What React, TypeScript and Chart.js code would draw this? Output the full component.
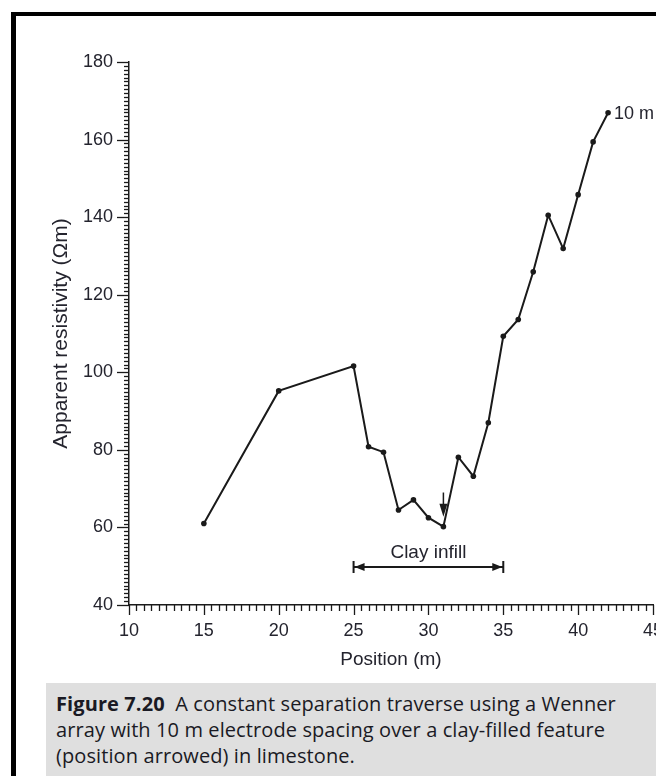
import React, { useEffect, useRef } from "react";
import { Chart, registerables } from "chart.js";

Chart.register(...registerables);

// ---- data ----
const positions = [15, 20, 25, 26, 27, 28, 29, 30, 31, 32, 33, 34, 35, 36, 37, 38, 39, 40, 41, 42];
const resistivity = [61, 95.2, 101.6, 80.8, 79.4, 64.5, 67.1, 62.5, 60.2, 78.1, 73.2, 87, 109.3, 113.6, 125.9, 140.5, 131.9, 145.8, 159.4, 166.9];
const xMin = 10;
const xMax = 45;
const xStep = 5;
const xMinorStep = 0.5;
const yMin = 40;
const yMax = 180;
const yStep = 20;
const yMinorStep = 1;
const seriesLabel = "10 m";
const clayRange = [25, 35];
const clayLevel = 49.8;
const clayLabel = "Clay infill";
const arrowPosition = 31;
const arrowTopValue = 69;
const xTitle = "Position (m)";
const yTitle = "Apparent resistivity (\u03A9m)";
const captionBold = "Figure 7.20";
const captionLines = [
  "A constant separation traverse using a Wenner",
  "array with 10 m electrode spacing over a clay-filled feature",
  "(position arrowed) in limestone.",
];

const INK = "#1a1a1a";
const TEXT = "#24242e";
const FONT = "'Liberation Sans', Arial, Helvetica, sans-serif";

const CANVAS_W = 760;
const CANVAS_H = 683;
const AREA_TOP = 62;
const AREA_LEFT = 129;
const AREA_RIGHT = 653;
const AREA_BOTTOM = 605;

const decorPlugin = {
  id: "decor",
  afterDatasetsDraw(chart: any) {
    const { ctx } = chart;
    const xs = chart.scales.x;
    const ys = chart.scales.y;
    ctx.save();
    ctx.strokeStyle = INK;
    ctx.fillStyle = INK;
    ctx.lineWidth = 1.3;

    // y axis ticks (outward)
    const yAxisX = xs.getPixelForValue(xMin);
    for (let v = yMin; v <= yMax + 1e-9; v += yMinorStep) {
      const py = Math.round(ys.getPixelForValue(v)) + 0.5;
      const major = Math.abs((v - yMin) % yStep) < 1e-6;
      ctx.beginPath();
      ctx.moveTo(yAxisX, py);
      ctx.lineTo(yAxisX - (major ? 12 : 5), py);
      ctx.stroke();
    }
    // x axis ticks (outward)
    const xAxisY = ys.getPixelForValue(yMin);
    for (let v = xMin; v <= xMax + 1e-9; v += xMinorStep) {
      const px = Math.round(xs.getPixelForValue(v)) + 0.5;
      const major = Math.abs((v - xMin) % xStep) < 1e-6;
      ctx.beginPath();
      ctx.moveTo(px, xAxisY);
      ctx.lineTo(px, xAxisY + (major ? 10 : 6));
      ctx.stroke();
    }

    // Clay infill double arrow
    const x1 = xs.getPixelForValue(clayRange[0]);
    const x2 = xs.getPixelForValue(clayRange[1]);
    const cy = ys.getPixelForValue(clayLevel);
    ctx.lineWidth = 2;
    ctx.beginPath();
    ctx.moveTo(x1, cy);
    ctx.lineTo(x2, cy);
    ctx.moveTo(x1, cy - 6);
    ctx.lineTo(x1, cy + 6);
    ctx.moveTo(x2, cy - 6);
    ctx.lineTo(x2, cy + 6);
    ctx.stroke();
    ctx.beginPath();
    ctx.moveTo(x1 + 1, cy);
    ctx.lineTo(x1 + 11, cy - 4);
    ctx.lineTo(x1 + 11, cy + 4);
    ctx.closePath();
    ctx.moveTo(x2 - 1, cy);
    ctx.lineTo(x2 - 11, cy - 4);
    ctx.lineTo(x2 - 11, cy + 4);
    ctx.closePath();
    ctx.fill();

    ctx.fillStyle = TEXT;
    ctx.font = `19px ${FONT}`;
    ctx.textAlign = "center";
    ctx.textBaseline = "alphabetic";
    ctx.fillText(clayLabel, (x1 + x2) / 2, cy - 9);

    // small arrow pointing at the feature
    const idx = positions.indexOf(arrowPosition);
    const ax = xs.getPixelForValue(arrowPosition);
    const aTop = ys.getPixelForValue(arrowTopValue);
    const aTip = ys.getPixelForValue(resistivity[idx]) - 10;
    ctx.fillStyle = INK;
    ctx.lineWidth = 1.5;
    ctx.beginPath();
    ctx.moveTo(ax, aTop);
    ctx.lineTo(ax, aTip - 8);
    ctx.stroke();
    ctx.beginPath();
    ctx.moveTo(ax, aTip);
    ctx.lineTo(ax - 4, aTip - 13);
    ctx.lineTo(ax + 4, aTip - 13);
    ctx.closePath();
    ctx.fill();

    // series label
    const last = positions.length - 1;
    const lx = xs.getPixelForValue(positions[last]);
    const ly = ys.getPixelForValue(resistivity[last]);
    ctx.fillStyle = TEXT;
    ctx.font = `18px ${FONT}`;
    ctx.textAlign = "left";
    ctx.textBaseline = "middle";
    ctx.fillText(seriesLabel, lx + 6, ly + 1);

    ctx.restore();
  },
};

export default function App() {
  const ref = useRef<HTMLCanvasElement | null>(null);

  useEffect(() => {
    if (!ref.current) return;
    const chart = new Chart(ref.current, {
      type: "line",
      data: {
        datasets: [
          {
            label: seriesLabel,
            data: positions.map((p, i) => ({ x: p, y: resistivity[i] })),
            borderColor: INK,
            backgroundColor: INK,
            borderWidth: 2,
            pointRadius: 2.8,
            pointBorderWidth: 0,
            pointBackgroundColor: INK,
            tension: 0,
            clip: false as any,
          },
        ],
      },
      options: {
        responsive: false,
        animation: false,
        events: [],
        layout: {
          padding: { left: 0, top: AREA_TOP, right: CANVAS_W - AREA_RIGHT, bottom: 0 },
        },
        plugins: {
          legend: { display: false },
          tooltip: { enabled: false },
          title: { display: false },
        },
        scales: {
          x: {
            type: "linear",
            min: xMin,
            max: xMax,
            grid: { display: false, drawTicks: false },
            border: { display: true, color: INK, width: 1.5 },
            ticks: {
              stepSize: xStep,
              autoSkip: false,
              maxRotation: 0,
              padding: 15,
              color: TEXT,
              font: { family: FONT, size: 18 },
            },
            title: {
              display: true,
              text: xTitle,
              color: TEXT,
              font: { family: FONT, size: 19 },
              padding: { top: 0, bottom: 12 },
            },
            afterFit(scale: any) {
              scale.height = CANVAS_H - AREA_BOTTOM;
            },
          },
          y: {
            type: "linear",
            min: yMin,
            max: yMax,
            grid: { display: false, drawTicks: false },
            border: { display: true, color: INK, width: 1.5 },
            ticks: {
              stepSize: yStep,
              padding: 16,
              color: TEXT,
              font: { family: FONT, size: 18 },
            },
            title: {
              display: true,
              text: yTitle,
              color: TEXT,
              font: { family: FONT, size: 21 },
              padding: { top: 49, bottom: 0 },
            },
            afterFit(scale: any) {
              scale.width = AREA_LEFT;
            },
          },
        },
      },
      plugins: [decorPlugin],
    });
    return () => chart.destroy();
  }, []);

  return (
    <div
      style={{
        position: "fixed",
        left: 0,
        top: 0,
        width: 656,
        height: 776,
        overflow: "hidden",
        background: "#ffffff",
      }}
    >
      <div
        style={{
          position: "absolute",
          left: 11,
          top: 12,
          width: 700,
          height: 800,
          borderLeft: "5px solid #000",
          borderTop: "4px solid #000",
        }}
      />
      <canvas
        ref={ref}
        width={CANVAS_W}
        height={CANVAS_H}
        style={{ position: "absolute", left: 0, top: 0, width: CANVAS_W, height: CANVAS_H }}
      />
      <div
        style={{
          position: "absolute",
          left: 46,
          top: 683,
          width: 640,
          height: 120,
          background: "#dfdfdf",
          boxSizing: "border-box",
          padding: "8px 0 0 10px",
          fontFamily: "'Open Sans', 'Noto Sans', sans-serif",
          fontSize: 20,
          fontWeight: 500,
          lineHeight: "26px",
          color: "#1a1a24",
          whiteSpace: "nowrap",
          letterSpacing: "0.1px",
        }}
      >
        <span style={{ fontWeight: 700 }}>{captionBold}</span>
        {"\u00A0\u00A0" + captionLines[0]}
        <br />
        {captionLines[1]}
        <br />
        {captionLines[2]}
      </div>
    </div>
  );
}
